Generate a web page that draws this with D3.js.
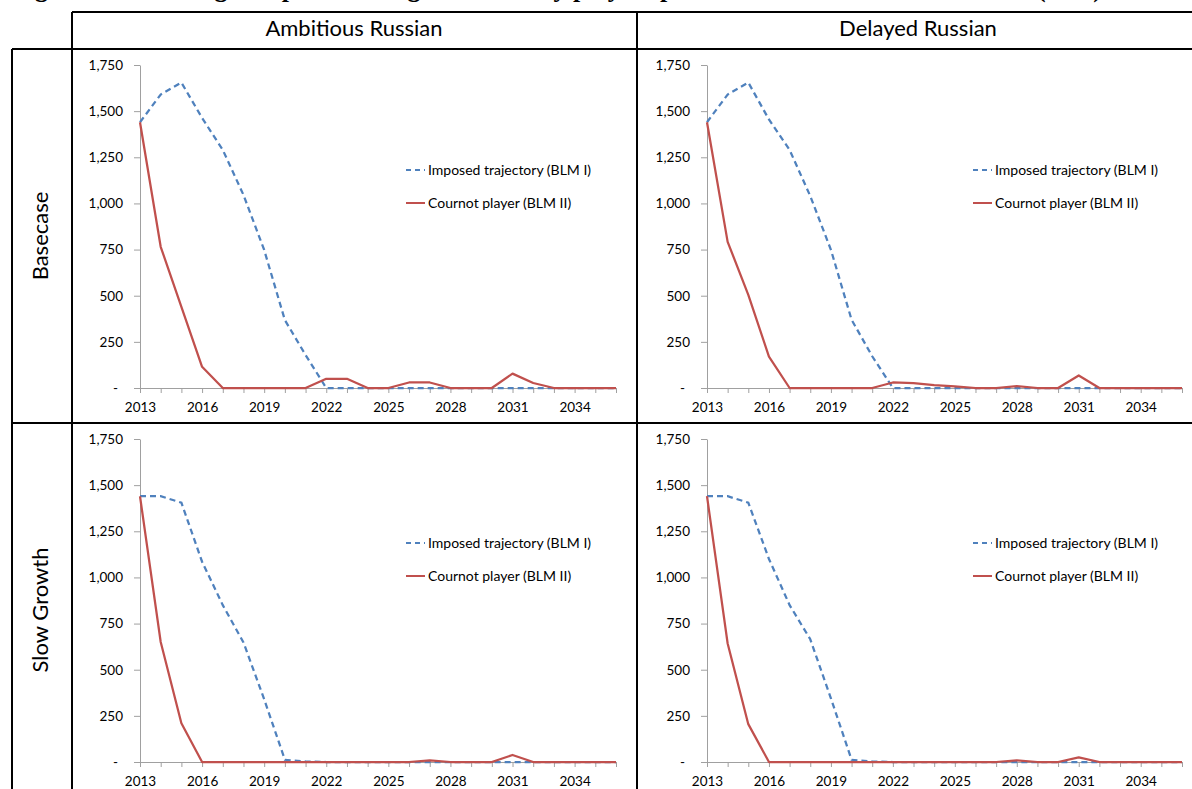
<!DOCTYPE html>
<html>
<head>
<meta charset="utf-8">
<script src="https://cdn.jsdelivr.net/npm/d3@7"></script>
<style>
  body { margin: 0; background: #fff; }
  svg { display: block; font-family: Lato, "Open Sans", sans-serif; }
</style>
</head>
<body>
<div id="chart"></div>
<script>
// Categories and labels
const years = [2013, 2014, 2015, 2016, 2017, 2018, 2019, 2020, 2021, 2022, 2023, 2024,
               2025, 2026, 2027, 2028, 2029, 2030, 2031, 2032, 2033, 2034, 2035, 2036];
const labelYears = [2013, 2016, 2019, 2022, 2025, 2028, 2031, 2034];
const yTicks = [0, 250, 500, 750, 1000, 1250, 1500, 1750];
const columnTitles = ['Ambitious Russian', 'Delayed Russian'];
const rowTitles = ['Basecase', 'Slow Growth'];
const seriesNames = ['Imposed trajectory (BLM I)', 'Cournot player (BLM II)'];
const figureTitle = 'Figure 7: Russian gas exports through Ukraine by player specification and Russian scenario (bcm)';

// Series values
const imposedAmbBase = [1440, 1590, 1655, 1463, 1290, 1046, 748, 368, 179, 0, 0, 0,
                        0, 0, 0, 0, 0, 0, 0, 0, 0, 0, 0, 0];
const cournotAmbBase = [1440, 765, 440, 115, 0, 0, 0, 0, 0, 50, 50, 0,
                        0, 30, 30, 0, 0, 0, 78, 27, 0, 0, 0, 0];
const imposedDelBase = [1440, 1590, 1655, 1455, 1290, 1040, 749, 370, 172, 0, 0, 0,
                        0, 0, 0, 0, 0, 0, 0, 0, 0, 0, 0, 0];
const cournotDelBase = [1440, 792, 505, 170, 0, 0, 0, 0, 0, 30, 27, 16,
                        9, 0, 0, 10, 0, 0, 68, 0, 0, 0, 0, 0];
const imposedAmbSlow = [1440, 1440, 1405, 1085, 850, 648, 340, 12, 3, 0, 0, 0,
                        0, 0, 0, 0, 0, 0, 0, 0, 0, 0, 0, 0];
const cournotAmbSlow = [1440, 650, 210, 0, 0, 0, 0, 0, 0, 0, 0, 0,
                        0, 0, 9, 0, 0, 0, 38, 0, 0, 0, 0, 0];
const imposedDelSlow = [1440, 1440, 1405, 1100, 850, 665, 345, 12, 3, 0, 0, 0,
                        0, 0, 0, 0, 0, 0, 0, 0, 0, 0, 0, 0];
const cournotDelSlow = [1440, 642, 205, 0, 0, 0, 0, 0, 0, 0, 0, 0,
                        0, 0, 0, 9, 0, 0, 25, 0, 0, 0, 0, 0];

const panelData = [
  { row: 0, col: 0, imposed: imposedAmbBase, cournot: cournotAmbBase },
  { row: 0, col: 1, imposed: imposedDelBase, cournot: cournotDelBase },
  { row: 1, col: 0, imposed: imposedAmbSlow, cournot: cournotAmbSlow },
  { row: 1, col: 1, imposed: imposedDelSlow, cournot: cournotDelSlow }
];

const width = 1192;
const height = 789;
const blue = '#4f81bd';
const red = '#c0504d';
const axisGrey = '#a0a0a0';

// Layout of the table and the plot areas
const colX = [{ left: 140, right: 616 }, { left: 707, right: 1182 }];
const rowY = [{ top: 65, bottom: 388 }, { top: 439, bottom: 762 }];
const legendX = [406, 973];
const legendY = [171, 544];

const svg = d3.select('#chart')
  .append('svg')
  .attr('width', width)
  .attr('height', height);

svg.append('rect').attr('width', width).attr('height', height).attr('fill', '#fff');

// Figure caption: only its descenders show above the table, as in the source page
svg.append('text')
  .attr('x', 12)
  .attr('y', -3)
  .attr('font-family', '"Liberation Serif", serif')
  .attr('font-weight', 'bold')
  .attr('font-size', '26px')
  .text(figureTitle);

// Table lines
const table = svg.append('g').attr('stroke', '#000').attr('stroke-width', 2);
[[72, 12, 1192, 12], [12, 49, 1192, 49], [12, 423, 1192, 423],
 [12, 49, 12, 789], [72, 12, 72, 789], [637, 12, 637, 789]].forEach(l => {
  table.append('line').attr('x1', l[0]).attr('y1', l[1]).attr('x2', l[2]).attr('y2', l[3]);
});

// Column headers
columnTitles.forEach((t, i) => {
  svg.append('text')
    .attr('x', i === 0 ? 354 : 918)
    .attr('y', 30)
    .attr('text-anchor', 'middle')
    .attr('dominant-baseline', 'middle')
    .attr('font-size', '22px')
    .text(t);
});

// Row headers
rowTitles.forEach((t, i) => {
  const cy = i === 0 ? 236 : 610;
  svg.append('text')
    .attr('transform', `translate(42,${cy}) rotate(-90)`)
    .attr('text-anchor', 'middle')
    .attr('dominant-baseline', 'middle')
    .attr('font-size', '22px')
    .text(t);
});

// Panels
panelData.forEach(p => {
  const cx = colX[p.col];
  const ry = rowY[p.row];

  const x = d3.scalePoint()
    .domain(years)
    .range([cx.left, cx.right])
    .padding(0);

  const y = d3.scaleLinear()
    .domain([0, 1750])
    .range([ry.bottom, ry.top]);

  const g = svg.append('g');

  // y axis
  const yAxis = g.append('g')
    .attr('transform', `translate(${cx.left},0)`)
    .call(d3.axisLeft(y)
      .tickValues(yTicks)
      .tickSize(6)
      .tickSizeOuter(0)
      .tickPadding(11)
      .tickFormat(d => d === 0 ? '-' : d3.format(',')(d)));
  yAxis.selectAll('text')
    .attr('font-size', '13.5px')
    .attr('font-family', 'Lato, sans-serif')
    .attr('fill', '#000')
    .filter(d => d === 0)
    .attr('dx', '-5');

  // x axis
  const xAxis = g.append('g')
    .attr('transform', `translate(0,${ry.bottom})`)
    .call(d3.axisBottom(x)
      .tickValues(years)
      .tickSize(5)
      .tickSizeOuter(0)
      .tickPadding(9)
      .tickFormat(d => labelYears.includes(d) ? String(d) : ''));
  xAxis.selectAll('text')
    .attr('font-size', '13.5px')
    .attr('font-family', 'Lato, sans-serif')
    .attr('fill', '#000');

  g.selectAll('.domain, .tick line').attr('stroke', axisGrey);

  // series lines
  const line = d3.line()
    .x((d, i) => x(years[i]))
    .y(d => y(d));

  g.append('path')
    .datum(p.imposed)
    .attr('d', line)
    .attr('fill', 'none')
    .attr('stroke', blue)
    .attr('stroke-width', 2.25)
    .attr('stroke-dasharray', '6,4');

  g.append('path')
    .datum(p.cournot)
    .attr('d', line)
    .attr('fill', 'none')
    .attr('stroke', red)
    .attr('stroke-width', 2.25)
    .attr('stroke-linejoin', 'round');

  // legend
  const lx = legendX[p.col];
  const ly = legendY[p.row];
  const legend = g.append('g');
  seriesNames.forEach((name, i) => {
    const yy = ly + i * 33;
    legend.append('line')
      .attr('x1', lx).attr('x2', lx + 19)
      .attr('y1', yy - 1).attr('y2', yy - 1)
      .attr('stroke', i === 0 ? blue : red)
      .attr('stroke-width', 2)
      .attr('stroke-dasharray', i === 0 ? '5,4' : null);
    legend.append('text')
      .attr('x', lx + 22)
      .attr('y', yy)
      .attr('dominant-baseline', 'middle')
      .attr('font-size', '14px')
      .text(name);
  });
});
</script>
</body>
</html>
